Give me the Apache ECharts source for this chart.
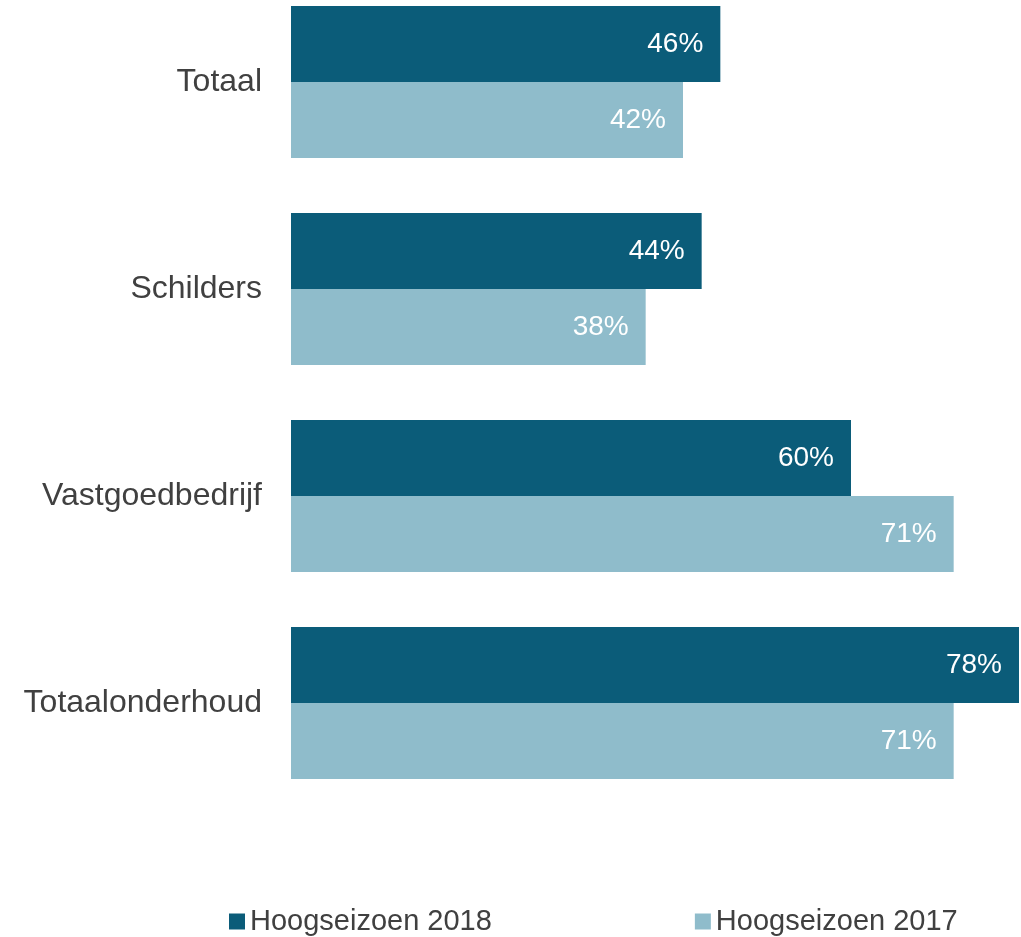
<!DOCTYPE html>
<html>
  <head>
      <meta charset="utf-8">
      <script src="https://cdn.jsdelivr.net/npm/echarts@6/dist/echarts.min.js"></script>
      <style>
        html, body { margin: 0; padding: 0; background: #fff; }
      </style>
  </head>
  <body>
      <div id="main" style="width: 1021px;height:937px;"></div>
      <script type="text/javascript">
          var categories = ['Totaal', 'Schilders', 'Vastgoedbedrijf', 'Totaalonderhoud'];
          var seriesNames = ['Hoogseizoen 2018', 'Hoogseizoen 2017'];
          var values2018 = [46, 44, 60, 78];
          var values2017 = [42, 38, 71, 71];

          var myChart = echarts.init(document.getElementById('main'));

          var labelOption = {
              show: true,
              position: 'insideRight',
              distance: 17,
              color: '#ffffff',
              fontSize: 28,
              fontFamily: 'Liberation Sans, Arial, sans-serif',
              formatter: '{c}%'
          };

          // category centres sit on the grid edges (boundaryGap false), 207px apart
          var option = {
              animation: false,
              color: ['#0b5c79', '#8fbccb'],
              grid: {
                  left: 291,
                  right: 2,
                  top: 82,
                  height: 621
              },
              legend: {
                  data: seriesNames,
                  left: 224,
                  top: 902,
                  icon: 'rect',
                  itemWidth: 16,
                  itemHeight: 16,
                  itemGap: 203,
                  textStyle: {
                      color: '#404040',
                      fontSize: 29,
                      fontFamily: 'Liberation Sans, Arial, sans-serif'
                  }
              },
              xAxis: {
                  type: 'value',
                  min: 0,
                  max: 78,
                  show: false,
                  splitLine: {show: false}
              },
              yAxis: {
                  type: 'category',
                  inverse: true,
                  boundaryGap: false,
                  data: categories,
                  axisLine: {show: false},
                  axisTick: {show: false},
                  splitLine: {show: false},
                  axisLabel: {
                      margin: 29,
                      color: '#404040',
                      fontSize: 32,
                      fontFamily: 'Liberation Sans, Arial, sans-serif'
                  }
              },
              series: [
                  {
                      name: seriesNames[0],
                      type: 'bar',
                      barWidth: 76,
                      barGap: '0%',
                      label: labelOption,
                      data: values2018
                  },
                  {
                      name: seriesNames[1],
                      type: 'bar',
                      barWidth: 76,
                      barGap: '0%',
                      label: labelOption,
                      data: values2017
                  }
              ]
          };
          myChart.setOption(option);
      </script>
  </body>
</html>
